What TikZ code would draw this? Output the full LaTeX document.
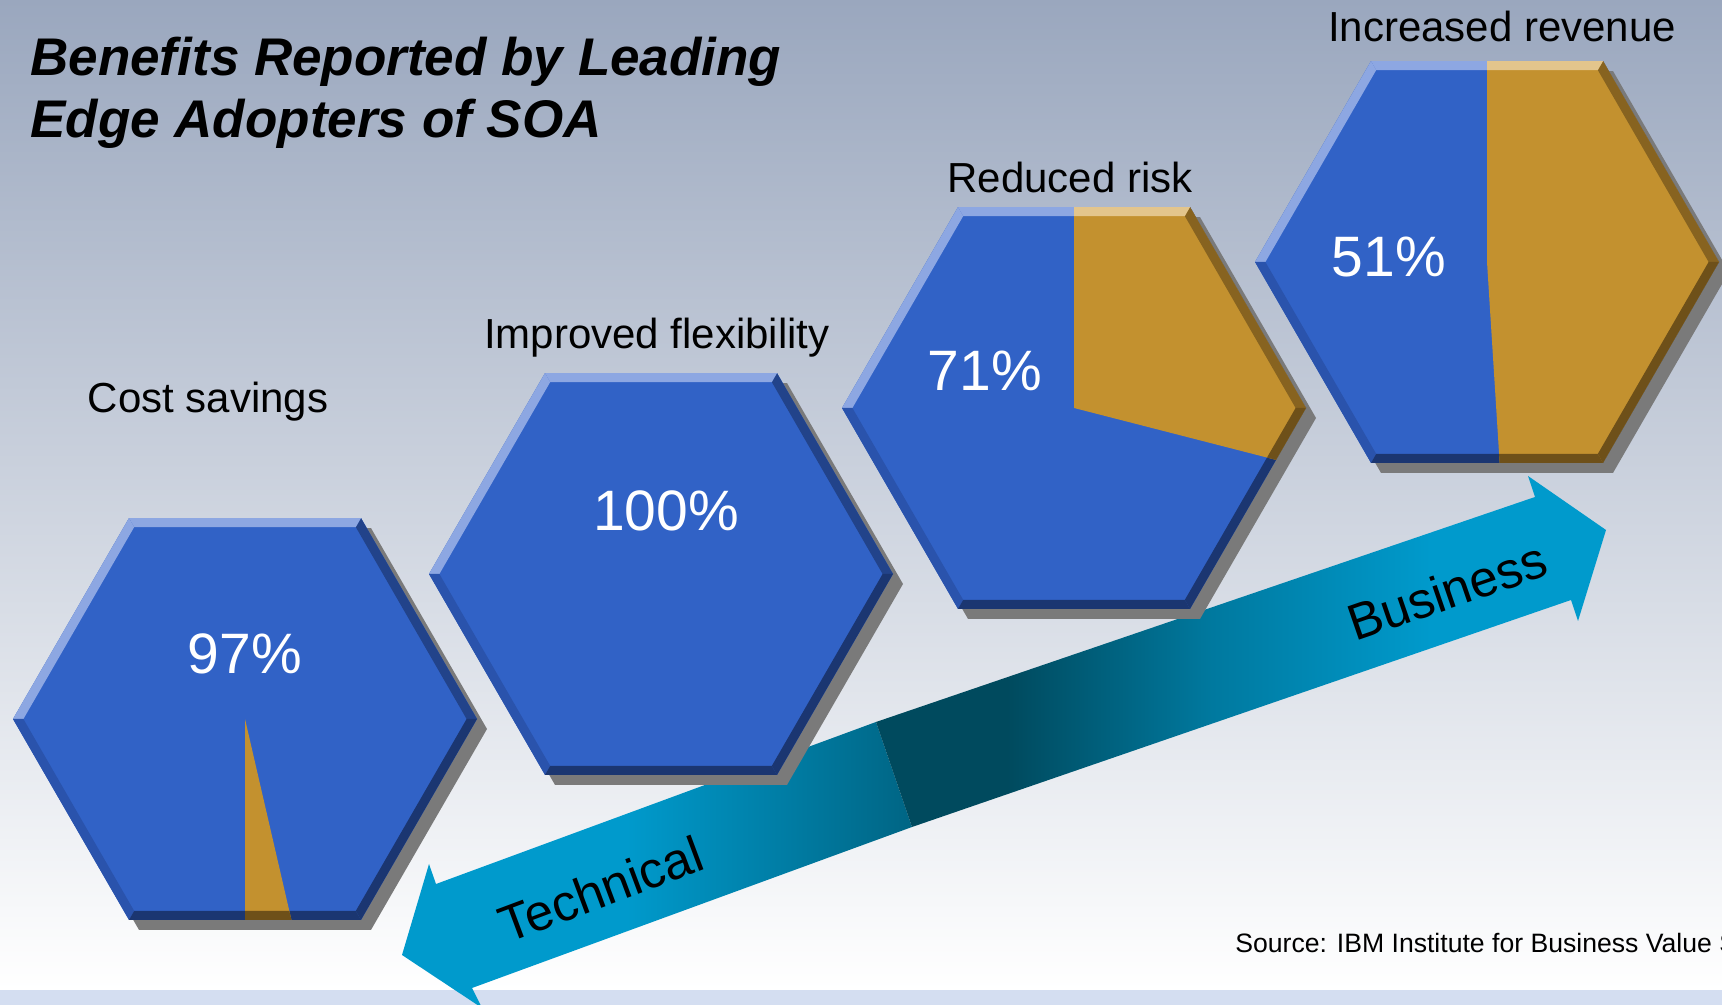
\documentclass[tikz,border=0pt]{standalone}
\usepackage{fontspec}
\setmainfont{Liberation Sans}

\definecolor{hexblue}{HTML}{3162C6}
\definecolor{hexbluelight}{HTML}{8DA7E2}
\definecolor{hexbluemid}{HTML}{2A53AC}
\definecolor{hexbluedark}{HTML}{1B3671}
\definecolor{hexgold}{HTML}{C3912F}
\definecolor{hexgoldlight}{HTML}{E3C58C}
\definecolor{hexgoldmid}{HTML}{A77A27}
\definecolor{hexgolddark}{HTML}{6E5019}
\definecolor{hexshadow}{HTML}{7A7A7A}
\definecolor{bgtop}{HTML}{9AA7BE}
\definecolor{bgstrip}{HTML}{D4DEF1}
\definecolor{techlight}{HTML}{009ACC}
\definecolor{techdark}{HTML}{006584}
\definecolor{bizdark}{HTML}{004A5E}
\definecolor{bizmid}{HTML}{00799F}
\definecolor{bizlight}{HTML}{009ACC}

\pgfdeclarehorizontalshading{techshade}{100bp}{color(0bp)=(techlight); color(25bp)=(techlight); color(47bp)=(techlight); color(75bp)=(techdark); color(100bp)=(techdark)}
\pgfdeclarehorizontalshading{bizshade}{100bp}{color(0bp)=(bizdark); color(25bp)=(bizdark); color(34bp)=(bizdark); color(48bp)=(bizmid); color(63bp)=(bizlight); color(100bp)=(bizlight)}

\newcommand{\hexbody}[5]{%
  \begin{scope}[shift={(#1)}]
    \fill[#2] (0:232) -- (60:232) -- (120:232) -- (180:232) -- (240:232) -- (300:232) -- cycle;
    \foreach \a/\col in {0/#5!70!#2, 60/#3, 120/#3, 180/#4, 240/#5, 300/#5}
      \fill[\col] (\a:232) -- (\a+60:232) -- (\a+60:221.6) -- (\a:221.6) -- cycle;
  \end{scope}}

\begin{document}
\begin{tikzpicture}[x=0.5pt,y=0.5pt,
    pct/.style={anchor=base,inner sep=0,text=white,font=\fontsize{28.5}{34}\selectfont},
    captxt/.style={anchor=base,inner sep=0,font=\fontsize{21}{25}\selectfont},
    arrowtxt/.style={inner sep=0,font=\fontsize{25.5}{30}\selectfont}]

      \useasboundingbox (0,0) rectangle (1722,1005);
      \shade[top color=bgtop,bottom color=white] (0,15) rectangle (1722,1005);
      \fill[bgstrip] (0,0) rectangle (1722,15);

      \node[anchor=base west,align=left,inner sep=0,
            font=\fontsize{26.5}{31}\selectfont\bfseries\itshape] (title) at (30,867)
        {Benefits Reported by Leading\\Edge Adopters of SOA};

      \shade[shading=techshade] (876,283) -- (436,121) -- (429,141) -- (402,50)
        -- (482,-3) -- (472,17) -- (912,178) -- cycle;
      \shade[shading=bizshade] (876,283) -- (1535,508) -- (1528,529) -- (1606,475)
        -- (1578,384) -- (1571,405) -- (912,178) -- cycle;

      \node[arrowtxt,rotate=20.5] (tech) at (601,116) {Technical};
      \node[arrowtxt,rotate=19] (biz) at (1447,414) {Business};

      \coordinate (h1) at (245,286);
      \coordinate (h2) at (661,431);
      \coordinate (h3) at (1074,597);
      \coordinate (h4) at (1487,743);

      \foreach \h in {h1,h2,h3,h4}
        \fill[hexshadow,shift={(\h)},xshift=5pt,yshift=-5pt]
          (0:232) -- (60:232) -- (120:232) -- (180:232) -- (240:232) -- (300:232) -- cycle;

      \foreach \h in {h1,h2,h3,h4} {
        \hexbody{\h}{hexblue}{hexbluelight}{hexbluemid}{hexbluedark}
      }

      \foreach \h/\from/\to in {h1/-90/-77, h3/90/-14.4, h4/90/-86.4} {
        \begin{scope}
          \clip (\h) -- ++(\from:300) arc[start angle=\from,end angle=\to,radius=300] -- cycle;
          \hexbody{\h}{hexgold}{hexgoldlight}{hexgoldmid}{hexgolddark}
        \end{scope}
      }

      \begin{scope}[every node/.style={pct}]
        \node (p1) at (245,331)  {97\%};
        \node (p2) at (666,474)  {100\%};
        \node (p3) at (985,614)  {71\%};
        \node (p4) at (1389,728) {51\%};
      \end{scope}

      \begin{scope}[every node/.style={captxt}]
        \node (c1) at (208,592)  {Cost savings};
        \node (c2) at (657,656)  {Improved flexibility};
        \node (c3) at (1070,812) {Reduced risk};
        \node (c4) at (1502,963) {Increased revenue};
      \end{scope}

      \node[anchor=base west,inner sep=0,font=\fontsize{13.3}{16}\selectfont] (source)
        at (1235,52) {Source: IBM Institute for Business Value S};

    \end{tikzpicture}
\end{document}
